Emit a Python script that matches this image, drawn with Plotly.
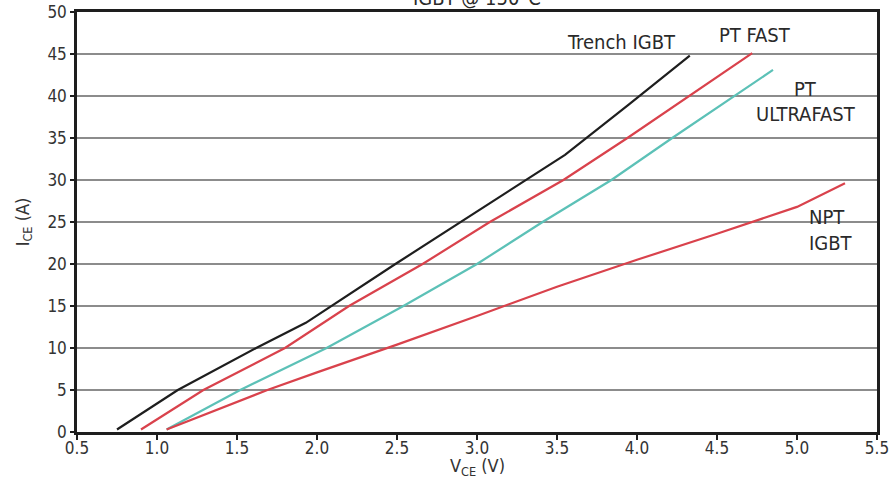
import plotly.graph_objects as go

# ---- data ----
trench_v = [0.75, 1.13, 1.62, 1.93, 2.49, 2.90, 3.31, 3.55, 3.95, 4.33]
trench_i = [0.3, 5.0, 10.0, 13.0, 20.0, 25.0, 30.0, 33.0, 39.0, 44.8]

ptfast_v = [0.90, 1.29, 1.80, 2.20, 2.66, 3.08, 3.54, 3.94, 4.72]
ptfast_i = [0.3, 5.0, 10.0, 15.0, 20.0, 25.0, 30.0, 35.0, 45.1]

ptuf_v = [1.06, 1.52, 2.06, 2.54, 3.00, 3.41, 3.84, 4.22, 4.85]
ptuf_i = [0.3, 5.0, 10.0, 15.0, 20.0, 25.0, 30.0, 35.0, 43.1]

npt_v = [1.06, 1.69, 2.00, 2.50, 3.00, 3.50, 4.00, 4.50, 5.00, 5.30]
npt_i = [0.3, 5.0, 7.1, 10.4, 13.8, 17.3, 20.5, 23.6, 26.8, 29.6]

x_ticks = [0.5, 1.0, 1.5, 2.0, 2.5, 3.0, 3.5, 4.0, 4.5, 5.0, 5.5]
y_ticks = [0, 5, 10, 15, 20, 25, 30, 35, 40, 45, 50]

FONT = "Liberation Sans Narrow, Arial Narrow, DejaVu Sans Condensed, sans-serif"
BLACK = "#1e1e1e"
RED = "#d9424c"
CYAN = "#5cc1b7"
TXT = "#2a2a2a"

fig = go.Figure()
for v, i, c, name in [
    (trench_v, trench_i, BLACK, "Trench IGBT"),
    (ptfast_v, ptfast_i, RED, "PT FAST"),
    (ptuf_v, ptuf_i, CYAN, "PT ULTRAFAST"),
    (npt_v, npt_i, RED, "NPT IGBT"),
]:
    fig.add_trace(go.Scatter(x=v, y=i, mode="lines", name=name,
                             line=dict(color=c, width=2.2)))

labels = [
    ("Trench IGBT", 3.906, 46.4),
    ("PT FAST", 4.74, 47.3),
    ("PT", 5.05, 40.8),
    ("ULTRAFAST", 5.055, 37.8),
    ("NPT", 5.19, 25.6),
    ("IGBT", 5.21, 22.5),
]
for t, x, y in labels:
    fig.add_annotation(x=x, y=y, xref="x", yref="y", text=t, showarrow=False,
                       font=dict(family=FONT, size=20, color=TXT))

# clipped chart title at the very top
fig.add_annotation(x=0.5, y=1, xref="paper", yref="paper", yanchor="bottom",
                   yshift=0, text="IGBT @ 150°C", showarrow=False,
                   font=dict(family=FONT, size=20, color=TXT))

# x axis title
fig.add_annotation(x=0.5, y=0, xref="paper", yref="paper", yanchor="middle",
                   yshift=-35, text="V<sub>CE</sub> (V)", showarrow=False,
                   font=dict(family=FONT, size=18, color="#333"))

fig.update_layout(
    width=896, height=495,
    margin=dict(l=77, r=19, t=12, b=63),
    paper_bgcolor="white", plot_bgcolor="white",
    showlegend=False,
    font=dict(family=FONT, color=TXT),
)
fig.update_xaxes(
    range=[0.5, 5.5], tickvals=x_ticks, tickformat=".1f",
    showgrid=False, zeroline=False, automargin=False,
    showline=True, linecolor=BLACK, linewidth=2.5, mirror=True,
    ticks="outside", ticklen=5, tickcolor=BLACK, tickwidth=1.5,
    ticklabelstandoff=-6,
    tickfont=dict(family=FONT, size=17, color="#333"),
)
fig.update_yaxes(
    range=[0, 50], tickvals=y_ticks,
    showgrid=True, gridcolor="#8c8c8c", gridwidth=2, zeroline=False,
    automargin=False,
    showline=True, linecolor=BLACK, linewidth=2.5, mirror=True,
    ticks="outside", ticklen=4, tickcolor=BLACK, tickwidth=1.5,
    tickfont=dict(family=FONT, size=17, color="#333"),
    title=dict(text="I<sub>CE</sub> (A)", standoff=14,
               font=dict(family=FONT, size=18, color="#333")),
)

fig.write_html("out.html", config={"displayModeBar": False},
               post_script="document.body.style.margin='0';document.body.style.overflow='hidden';")
